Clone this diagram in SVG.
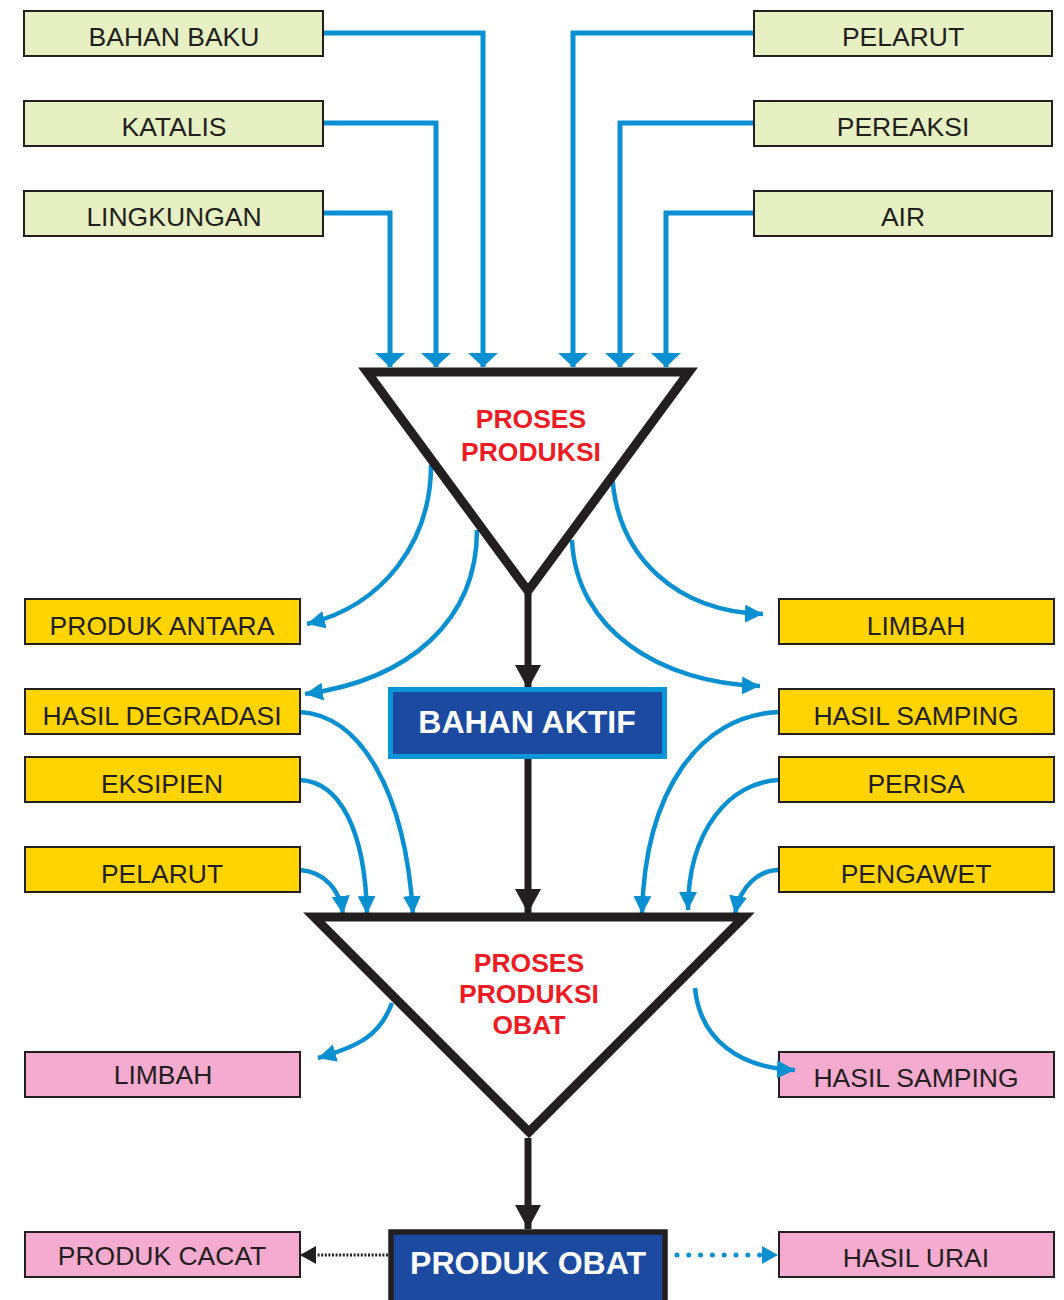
<svg xmlns="http://www.w3.org/2000/svg" width="1064" height="1300" viewBox="0 0 1064 1300">
<style>
.box{stroke:#231f20;stroke-width:2}
.g{fill:#e7f0c3}
.y{fill:#ffd400}
.p{fill:#f5aacf}
.t{font-family:"Liberation Sans",Arial,sans-serif;font-size:26.5px;fill:#231f20;text-anchor:middle}
.r{font-family:"Liberation Sans",Arial,sans-serif;font-size:26.5px;font-weight:bold;fill:#ed1c24;text-anchor:middle}
.w{font-family:"Liberation Sans",Arial,sans-serif;font-size:32px;font-weight:bold;fill:#ffffff;text-anchor:middle}
.bl{fill:none;stroke:#0a8fd1;stroke-width:5}
.cv{fill:none;stroke:#0a8fd1;stroke-width:4.5}
.bk{fill:none;stroke:#231f20;stroke-width:7}
.tri{fill:#ffffff;stroke:#231f20;stroke-width:9;stroke-linejoin:miter}
</style>
<defs>
<marker id="ab" markerUnits="userSpaceOnUse" markerWidth="14" markerHeight="30" refX="14" refY="15" orient="auto"><path d="M0,0 L14,15 L0,30 z" fill="#0a8fd1"/></marker>
<marker id="as" markerUnits="userSpaceOnUse" markerWidth="18" markerHeight="18" refX="18" refY="9" orient="auto"><path d="M0,0 L18,9 L0,18 z" fill="#0a8fd1"/></marker>
<marker id="ak" markerUnits="userSpaceOnUse" markerWidth="24" markerHeight="26" refX="24" refY="13" orient="auto"><path d="M0,0 L24,13 L0,26 z" fill="#231f20"/></marker>
<marker id="akl" markerUnits="userSpaceOnUse" markerWidth="16" markerHeight="18" refX="16" refY="9" orient="auto"><path d="M0,0 L16,9 L0,18 z" fill="#231f20"/></marker>
<marker id="abl" markerUnits="userSpaceOnUse" markerWidth="16" markerHeight="18" refX="16" refY="9" orient="auto"><path d="M0,0 L16,9 L0,18 z" fill="#0a8fd1"/></marker>
</defs>

<g id="hasil-samping-2"><rect class="box p" x="779" y="1052" width="275" height="45"/><text class="t" x="916" y="1087">HASIL SAMPING</text></g>

<g id="connectors">
<path class="bl" d="M323,33 H483 V367" marker-end="url(#ab)"/>
<path class="bl" d="M323,123 H436 V367" marker-end="url(#ab)"/>
<path class="bl" d="M323,213 H390 V367" marker-end="url(#ab)"/>
<path class="bl" d="M754,33 H573 V367" marker-end="url(#ab)"/>
<path class="bl" d="M754,123 H620 V367" marker-end="url(#ab)"/>
<path class="bl" d="M754,213 H666 V367" marker-end="url(#ab)"/>

<path class="cv" d="M431,465 C431,540 385,605 307,624" marker-end="url(#as)"/>
<path class="cv" d="M477,530 C477,620 410,680 305,694" marker-end="url(#as)"/>
<path class="cv" d="M612,472 C616,560 680,612 763,614" marker-end="url(#as)"/>
<path class="cv" d="M572,540 C576,630 660,683 760,686" marker-end="url(#as)"/>

<path class="cv" d="M300,712 C360,715 405,790 413,914" marker-end="url(#as)"/>
<path class="cv" d="M300,780 C340,782 365,830 367,914" marker-end="url(#as)"/>
<path class="cv" d="M300,870 C325,872 340,890 343,914" marker-end="url(#as)"/>
<path class="cv" d="M779,712 C700,715 645,790 642,914" marker-end="url(#as)"/>
<path class="cv" d="M779,780 C730,782 688,830 688,910" marker-end="url(#as)"/>
<path class="cv" d="M779,870 C760,870 740,885 735,914" marker-end="url(#as)"/>

<path class="cv" d="M392,1003 C380,1035 360,1046 318,1058" marker-end="url(#as)"/>
<path class="cv" d="M695,988 C700,1040 740,1068 795,1070" marker-end="url(#as)"/>

<path class="bk" d="M528,594 V689" marker-end="url(#ak)"/>
<path class="bk" d="M528,759 V913" marker-end="url(#ak)"/>
<path class="bk" d="M528,1138 V1229" marker-end="url(#ak)"/>

<path d="M388,1255 H300" fill="none" stroke="#231f20" stroke-width="3" stroke-dasharray="2 1.6" marker-end="url(#akl)"/>
<path d="M677,1255 H778" fill="none" stroke="#0a8fd1" stroke-width="5" stroke-linecap="round" stroke-dasharray="0 11.8" marker-end="url(#abl)"/>
</g>

<g id="bahan-baku"><rect class="box g" x="24" y="11" width="299" height="45"/><text class="t" x="174" y="46">BAHAN BAKU</text></g>
<g id="katalis"><rect class="box g" x="24" y="101" width="299" height="45"/><text class="t" x="174" y="136">KATALIS</text></g>
<g id="lingkungan"><rect class="box g" x="24" y="191" width="299" height="45"/><text class="t" x="174" y="226">LINGKUNGAN</text></g>
<g id="pelarut-top"><rect class="box g" x="754" y="11" width="298" height="45"/><text class="t" x="903" y="46">PELARUT</text></g>
<g id="pereaksi"><rect class="box g" x="754" y="101" width="298" height="45"/><text class="t" x="903" y="136">PEREAKSI</text></g>
<g id="air"><rect class="box g" x="754" y="191" width="298" height="45"/><text class="t" x="903" y="226">AIR</text></g>

<g id="proses-produksi"><polygon class="tri" points="367,372 689,372 528,591"/><text class="r" x="531" y="428">PROSES</text><text class="r" x="531" y="461">PRODUKSI</text></g>

<g id="produk-antara"><rect class="box y" x="25" y="599" width="275" height="45"/><text class="t" x="162" y="635">PRODUK ANTARA</text></g>
<g id="hasil-degradasi"><rect class="box y" x="25" y="689" width="275" height="45"/><text class="t" x="162" y="725">HASIL DEGRADASI</text></g>
<g id="eksipien"><rect class="box y" x="25" y="757" width="275" height="45"/><text class="t" x="162" y="793">EKSIPIEN</text></g>
<g id="pelarut"><rect class="box y" x="25" y="847" width="275" height="45"/><text class="t" x="162" y="883">PELARUT</text></g>
<g id="limbah-1"><rect class="box y" x="779" y="599" width="275" height="45"/><text class="t" x="916" y="635">LIMBAH</text></g>
<g id="hasil-samping-1"><rect class="box y" x="779" y="689" width="275" height="45"/><text class="t" x="916" y="725">HASIL SAMPING</text></g>
<g id="perisa"><rect class="box y" x="779" y="757" width="275" height="45"/><text class="t" x="916" y="793">PERISA</text></g>
<g id="pengawet"><rect class="box y" x="779" y="847" width="275" height="45"/><text class="t" x="916" y="883">PENGAWET</text></g>

<g id="bahan-aktif"><rect x="390.5" y="689.5" width="274" height="67" fill="#1b4aa0" stroke="#0a95d6" stroke-width="5"/><text class="w" x="527" y="733">BAHAN AKTIF</text></g>

<g id="proses-produksi-obat"><polygon class="tri" points="314,917 744,917 529,1132"/><text class="r" x="529" y="972">PROSES</text><text class="r" x="529" y="1003">PRODUKSI</text><text class="r" x="529" y="1034">OBAT</text></g>

<g id="limbah-2"><rect class="box p" x="25" y="1052" width="275" height="45"/><text class="t" x="163" y="1084">LIMBAH</text></g>

<g id="produk-obat"><rect x="391" y="1232" width="274" height="75" fill="#1b4aa0" stroke="#231f20" stroke-width="5.5"/><text class="w" x="528" y="1274">PRODUK OBAT</text></g>

<g id="produk-cacat"><rect class="box p" x="25" y="1232" width="275" height="45"/><text class="t" x="162" y="1265">PRODUK CACAT</text></g>
<g id="hasil-urai"><rect class="box p" x="779" y="1232" width="275" height="45"/><text class="t" x="916" y="1267">HASIL URAI</text></g>
</svg>
